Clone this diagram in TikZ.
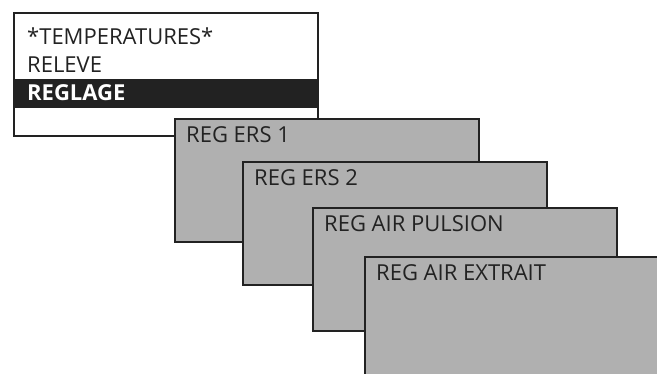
\documentclass[tikz,border=0pt]{standalone}
\usepackage{fontspec}
\setmainfont{Open Sans}
\usetikzlibrary{calc}
\definecolor{scrgray}{HTML}{B0B0B0}
\definecolor{ink}{HTML}{222222}
\begin{document}
\begin{tikzpicture}[x=1pt, y=-1pt,
    every node/.style={inner sep=0pt, font=\fontsize{22}{26}\selectfont, text=ink},
    screen/.style={draw=ink, line width=1.8pt, anchor=north west, minimum width=304pt, minimum height=123pt},
    sub/.style={screen, fill=scrgray},
    txt/.style={anchor=base west}]
    \clip (0,0) rectangle (657,374);
    % main menu
    \node[screen, fill=white] (menu) at (13,12) {};
    \node[fill=ink, anchor=north west, minimum width=304pt, minimum height=29pt] (bar) at (13,79) {};
    \node[txt] (t1) at (27,45) {*TEMPERATURES*};
    \node[txt] (t2) at (27,73) {RELEVE};
    \node[txt, text=white, font=\fontsize{22}{26}\selectfont\bfseries] (t3) at (27,101) {REGLAGE};
    % sub menus
    \node[sub] (ers1) at (174,118) {};
    \node[txt] at ($(ers1.north west)+(12,25)$) {REG ERS 1};
    \node[sub] (ers2) at (242,161) {};
    \node[txt] at ($(ers2.north west)+(12,25)$) {REG ERS 2};
    \node[sub] (puls) at (312,207) {};
    \node[txt] at ($(puls.north west)+(12,25)$) {REG AIR PULSION};
    \node[sub] (extr) at (364,256) {};
    \node[txt] at ($(extr.north west)+(12,25)$) {REG AIR EXTRAIT};
\end{tikzpicture}
\end{document}
